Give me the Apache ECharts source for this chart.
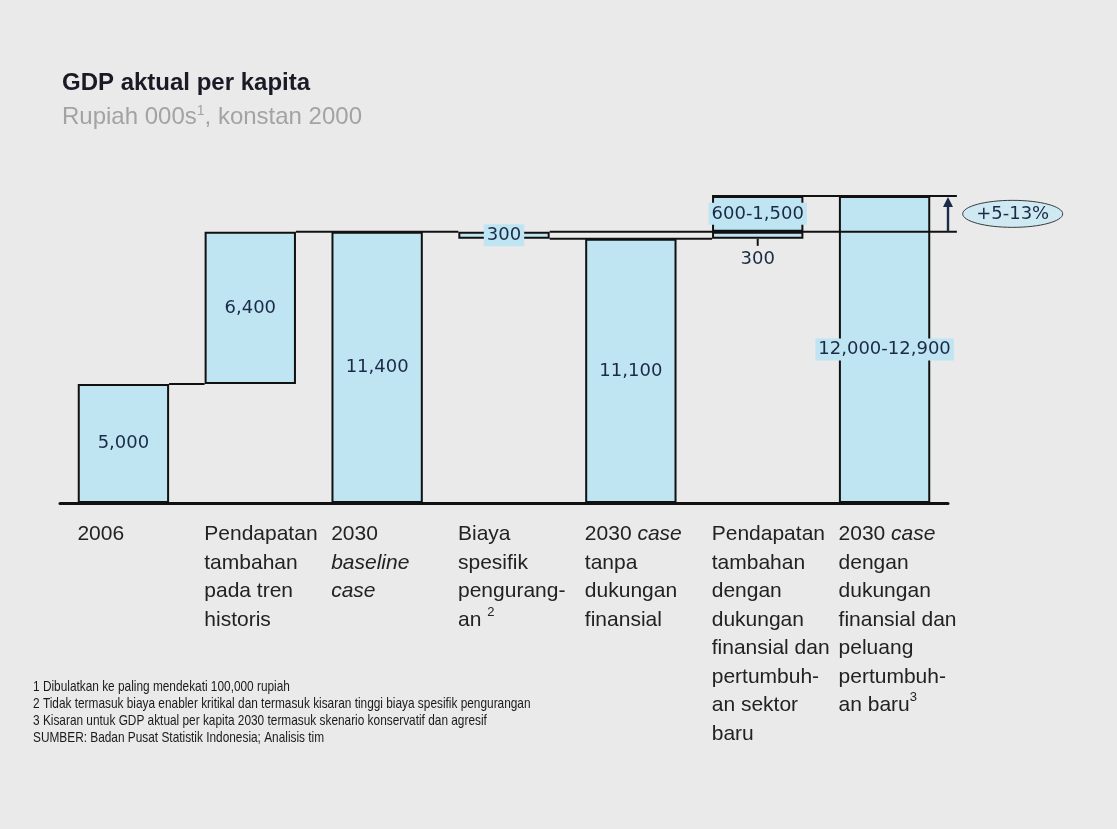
<!DOCTYPE html>
<html>
<head>
<meta charset="utf-8">
<script src="https://cdn.jsdelivr.net/npm/echarts@6/dist/echarts.min.js"></script>
<style>
  html, body { margin: 0; padding: 0; background: #eaeaea; }
  #chart { width: 1117px; height: 829px; }
</style>
</head>
<body>
<div id="chart"></div>
<script>
// Category captions (rich tags: i = italic, sup = superscript footnote mark)
const categories = [
  '2006',
  'Pendapatan\ntambahan\npada tren\nhistoris',
  '2030\n{i|baseline}\n{i|case}',
  'Biaya\nspesifik\npengurang-\nan {sup|2}',
  '2030 {i|case}\ntanpa\ndukungan\nfinansial',
  'Pendapatan\ntambahan\ndengan\ndukungan\nfinansial dan\npertumbuh-\nan sektor\nbaru',
  '2030 {i|case}\ndengan\ndukungan\nfinansial dan\npeluang\npertumbuh-\nan baru{sup|3}'
];

// Waterfall values, Rupiah 000s
const baseValues   = [0, 5000, 0, 11100, 0, 11100, 0];        // invisible offset
const barValues    = [5000, 6400, 11400, 300, 11100, 300, 12900];
const upsideValues = [null, null, null, null, null, 1500, null]; // top of the range above 2030 baseline
const barRangeLow    = [null, null, null, null, null, null, 12000];
const upsideRangeLow = [null, null, null, null, null, 600, null];
const upliftPct = [5, 13];

const footnotes = [
  '1 Dibulatkan ke paling mendekati 100,000 rupiah',
  '2 Tidak termasuk biaya enabler kritikal dan termasuk kisaran tinggi biaya spesifik pengurangan',
  '3 Kisaran untuk GDP aktual per kapita 2030 termasuk skenario konservatif dan agresif',
  'SUMBER: Badan Pusat Statistik Indonesia; Analisis tim'
];

const FILL = '#bfe4f2';
const EDGE = '#111111';
const NAVY = '#1b2a47';
const fmt = v => v.toLocaleString('en-US');
const rangeText = (low, high) => (low != null ? fmt(low) + '-' : '') + fmt(high);

const valueLabel = {
  show: true,
  position: 'inside',
  fontFamily: 'DejaVu Sans, Verdana, sans-serif',
  fontSize: 18,
  color: NAVY,
  backgroundColor: FILL,
  padding: [2, 3]
};

const barData = barValues.map((v, i) => {
  const item = { value: v, label: Object.assign({}, valueLabel, { formatter: rangeText(barRangeLow[i], v) }) };
  if (i === 5) {
    // restored reduction, written under the bar
    item.label = Object.assign({}, valueLabel, {
      formatter: fmt(v), position: 'bottom', distance: 11, backgroundColor: 'transparent', padding: 0
    });
  }
  return item;
});

const upsideData = upsideValues.map((v, i) => v == null ? null : {
  value: v,
  label: Object.assign({}, valueLabel, { formatter: rangeText(upsideRangeLow[i], v) })
});

// Levels reused by the connector lines
const levelFirst = barValues[0];
const levelBaseline = baseValues[2] + barValues[2];
const levelReduced = baseValues[3];
const levelTop = baseValues[5] + barValues[5] + upsideValues[5];

function renderAnnotations(params, api) {
  const band = api.size([1, 0])[0];
  const half = band * 0.72 / 2;
  const cx = i => api.coord([i, 0])[0];
  const y = v => api.coord([0, v])[1];
  const xl = i => cx(i) - half;
  const xr = i => cx(i) + half;
  const endX = cx(6) + band * 0.57;
  const lineStyle = { stroke: EDGE, lineWidth: 2 };
  const seg = (x1, yy, x2) => ({ type: 'line', shape: { x1: x1, y1: yy, x2: x2, y2: yy }, style: lineStyle });

  const yTop = y(levelTop), yBase = y(levelBaseline), yRed = y(levelReduced);
  const ax = cx(6) + band * 0.5;
  const ex = cx(6) + band * 1.01;
  const ey = (yTop + yBase) / 2;

  return {
    type: 'group',
    children: [
      seg(xr(0), y(levelFirst), xl(1)),
      seg(xr(1), yBase, xl(3)),
      seg(xr(3), yBase, endX),
      seg(xr(3), yRed, xl(5)),
      seg(xl(5), yTop, endX),
      // tick under the restored 300
      { type: 'line', shape: { x1: cx(5), y1: yRed, x2: cx(5), y2: yRed + 7 }, style: lineStyle },
      // uplift arrow
      { type: 'line', shape: { x1: ax, y1: yBase, x2: ax, y2: yTop + 8 }, style: { stroke: NAVY, lineWidth: 2.4 } },
      { type: 'polygon', shape: { points: [[ax, yTop + 1], [ax - 5, yTop + 11], [ax + 5, yTop + 11]] }, style: { fill: NAVY } },
      { type: 'ellipse', shape: { cx: ex, cy: ey, rx: 50, ry: 13.5 }, style: { fill: '#cfe9f3', stroke: '#3a3a3a', lineWidth: 1 } },
      { type: 'text', x: ex, y: ey, style: {
          text: '+' + upliftPct[0] + '-' + upliftPct[1] + '%',
          fontFamily: 'DejaVu Sans, Verdana, sans-serif', fontSize: 18, fill: NAVY,
          align: 'center', verticalAlign: 'middle' } }
    ]
  };
}

const chart = echarts.init(document.getElementById('chart'), null, { renderer: 'canvas' });
chart.setOption({
  animation: false,
  backgroundColor: '#eaeaea',
  title: {
    text: 'GDP aktual per kapita',
    subtext: 'Rupiah 000s{sup|1}, konstan 2000',
    left: 57, top: 66, itemGap: 9,
    textStyle: { fontFamily: 'Liberation Sans, Arial, sans-serif', fontSize: 24, fontWeight: 'bold', color: '#1a1a26' },
    subtextStyle: {
      fontFamily: 'Liberation Sans, Arial, sans-serif', fontSize: 24, color: '#a3a3a3',
      rich: { sup: { fontFamily: 'Liberation Sans, Arial, sans-serif', fontSize: 14, color: '#a3a3a3', verticalAlign: 'top', lineHeight: 26 } }
    }
  },
  // footnotes in a condensed setting
  graphic: [{
    type: 'text',
    x: 33, y: 679,
    scaleX: 0.79,
    silent: true,
    style: {
      text: footnotes.join('\n'),
      fontFamily: 'Liberation Sans, Arial, sans-serif',
      fontSize: 15,
      lineHeight: 16.7,
      fill: '#1a1a1a'
    }
  }],
  grid: { left: 60, top: 196, width: 888, height: 307, containLabel: false },
  xAxis: {
    type: 'category',
    data: categories,
    axisTick: { show: false },
    axisLine: { lineStyle: { color: EDGE, width: 3 } },
    axisLabel: {
      interval: 0,
      align: 'left',
      verticalAlign: 'top',
      margin: 17,
      padding: [0, 0, 0, -46],
      fontFamily: 'Liberation Sans, Arial, sans-serif',
      fontSize: 21,
      lineHeight: 28.5,
      color: '#222222',
      rich: {
        i: { fontStyle: 'italic', fontFamily: 'Liberation Sans, Arial, sans-serif', fontSize: 21, lineHeight: 28.5, color: '#222222' },
        sup: { fontFamily: 'Liberation Sans, Arial, sans-serif', fontSize: 13, lineHeight: 28.5, verticalAlign: 'top', color: '#222222' }
      }
    }
  },
  yAxis: { type: 'value', min: 0, max: 12900, show: false, splitLine: { show: false } },
  series: [
    {
      name: 'base', type: 'bar', stack: 'w', barWidth: '72%', silent: true,
      itemStyle: { color: 'transparent' }, data: baseValues
    },
    {
      name: 'GDP', type: 'bar', stack: 'w', silent: true,
      itemStyle: { color: FILL, borderColor: EDGE, borderWidth: 2 },
      data: barData
    },
    {
      name: 'range', type: 'bar', stack: 'w', silent: true,
      itemStyle: { color: FILL, borderColor: EDGE, borderWidth: 2 },
      data: upsideData
    },
    {
      name: 'annotations', type: 'custom', silent: true, clip: false, z: 3,
      renderItem: renderAnnotations, data: [[0, 0]]
    }
  ]
});
</script>
</body>
</html>
